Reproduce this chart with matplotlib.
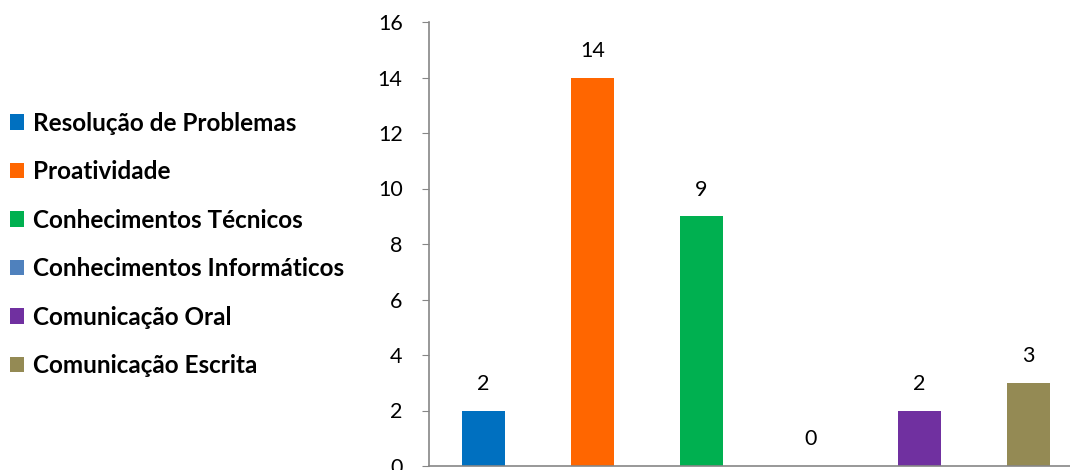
import matplotlib.pyplot as plt
from matplotlib.patches import Patch

categories = ["Resolução de Problemas", "Proatividade", "Conhecimentos Técnicos",
              "Conhecimentos Informáticos", "Comunicação Oral", "Comunicação Escrita"]
values = [2, 14, 9, 0, 2, 3]
colors = ["#0070C0", "#FF6600", "#00B050", "#4F81BD", "#7030A0", "#948A54"]

plt.rcParams['font.family'] = ['Lato', 'DejaVu Sans']

fig = plt.figure(figsize=(10.7, 4.7), dpi=100)
ax = fig.add_axes([429 / 1070, 4 / 470, 654 / 1070, 444 / 470])

x = list(range(len(values)))
ax.bar(x, values, width=0.4, color=colors)
for xi, v in zip(x, values):
    ax.annotate(str(v), (xi, v), xytext=(0, 12), textcoords="offset points",
                ha="center", va="bottom", fontsize=15.5, color="black")

ax.set_xlim(-0.5, len(values) - 0.5)
ax.set_ylim(0, 16)
ax.set_yticks(range(0, 17, 2))
ax.set_xticks([])
ax.tick_params(axis="y", labelsize=15.5, length=5, color="#868686", pad=14)
for s in ["top", "right"]:
    ax.spines[s].set_visible(False)
for s in ["left", "bottom"]:
    ax.spines[s].set_color("#868686")
    ax.spines[s].set_linewidth(1.2)

handles = [Patch(facecolor=c) for c in colors]
fig.legend(handles, categories, loc="center left", bbox_to_anchor=(0.0, 0.48),
           frameon=False, prop={"weight": "bold", "size": 17.5},
           handlelength=0.6, handleheight=0.6, handletextpad=0.35, labelspacing=1.05,
           borderaxespad=0.0)

fig.savefig("out.png", dpi=100)
